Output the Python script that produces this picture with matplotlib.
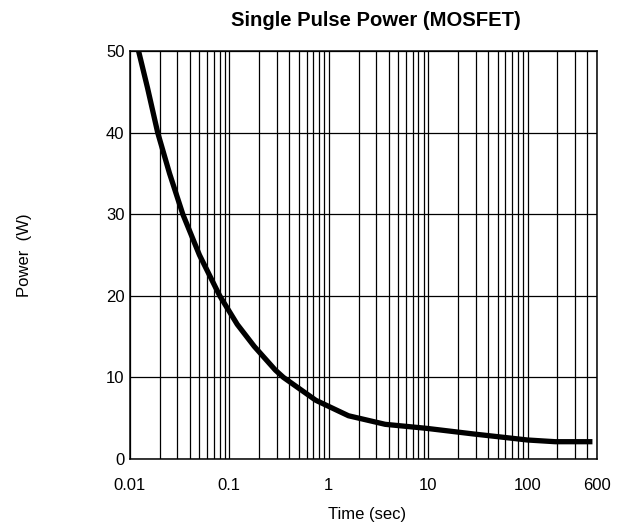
import numpy as np
import matplotlib
matplotlib.use("Agg")
from matplotlib import pyplot as plt
from matplotlib.ticker import LogLocator, NullFormatter

# dati
t_sec = [0.0122, 0.015, 0.019, 0.025, 0.034, 0.05, 0.08, 0.12, 0.178, 0.29, 0.35,
         0.74, 1.58, 3.7, 9.6, 29, 100, 190, 450]
p_w = [50, 45.5, 40, 35, 30, 25, 20, 16.5, 13.8, 10.9, 10,
       7.2, 5.3, 4.25, 3.76, 3.06, 2.33, 2.12, 2.12]

x_ticks = [0.01, 0.1, 1, 10, 100, 500]
x_labels = ["0.01", "0.1", "1", "10", "100", "600"]
y_ticks = [0, 10, 20, 30, 40, 50]

plt.rcParams['font.family'] = ['Liberation Sans', 'DejaVu Sans']

fig = plt.figure(figsize=(6.24, 5.25), dpi=100)
ax = fig.add_axes([0.2083, 0.1257, 0.7484, 0.7772])

ax.plot(t_sec, p_w, c='black', lw=3.8, solid_capstyle='butt', zorder=3)

ax.set_xscale('log')
ax.set_xlim(0.01, 500)
ax.set_ylim(0, 50)

ax.set_xticks(x_ticks)
ax.set_xticklabels(x_labels)
ax.xaxis.set_minor_locator(LogLocator(base=10, subs=np.arange(2, 10)))
ax.xaxis.set_minor_formatter(NullFormatter())
ax.set_yticks(y_ticks)

ax.grid(True, which='both', axis='x', color='black', lw=0.9)
ax.grid(True, which='major', axis='y', color='black', lw=0.9)

ax.tick_params(axis='both', which='both', length=0, labelsize=12)
ax.tick_params(axis='x', pad=14)
ax.tick_params(axis='y', pad=4)

for s in ax.spines.values():
    s.set_linewidth(1.1)

ax.set_xlabel('Time (sec)', fontsize=12)
ax.xaxis.set_label_coords(0.507, -0.1176)
ax.set_ylabel('Power  (W)', fontsize=12)
ax.yaxis.set_label_coords(-0.21, 0.5)

fig.text(376 / 624, 1 - 21 / 525, 'Single Pulse Power (MOSFET)', fontsize=14.6,
         fontweight='bold', ha='center', va='center')

fig.savefig('out.png', dpi=100)
